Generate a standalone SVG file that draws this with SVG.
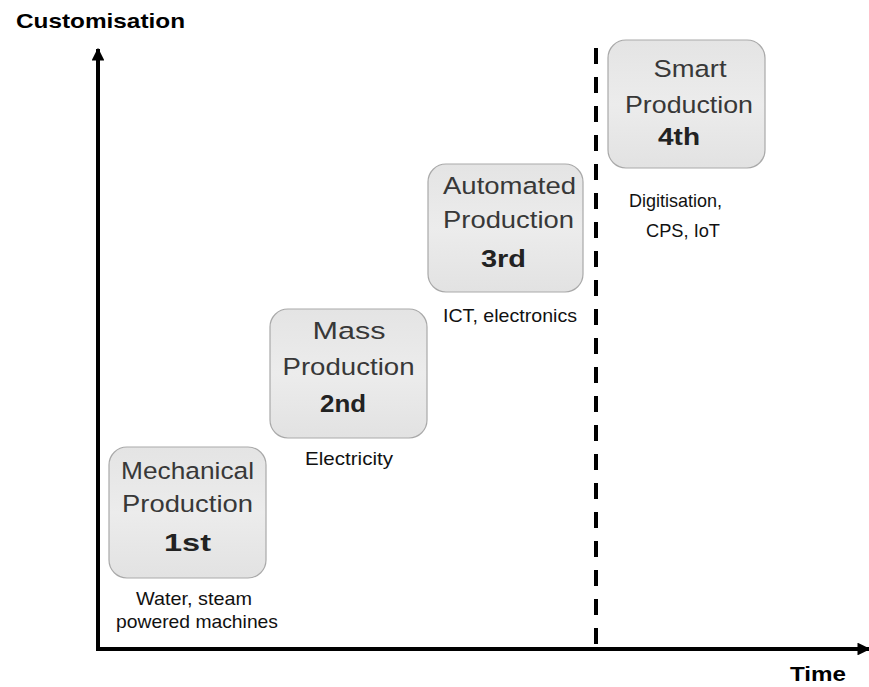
<svg xmlns="http://www.w3.org/2000/svg" width="869" height="687" viewBox="0 0 869 687">
  <style>
    .box { fill: url(#boxFill); stroke: #a9a9a9; stroke-width: 1.2; }
    .title { font-family: "Liberation Sans", Arial, sans-serif; font-size: 24.5px; fill: #383838; text-anchor: middle; }
    .num { font-family: "Liberation Sans", Arial, sans-serif; font-size: 24px; font-weight: bold; fill: #222; text-anchor: middle; }
    .cap { font-family: "Liberation Sans", Arial, sans-serif; font-size: 19px; fill: #111; text-anchor: middle; }
    .axisLabel { font-family: "Liberation Sans", Arial, sans-serif; font-size: 21px; font-weight: bold; fill: #000; }
    .axis { stroke: #000; stroke-width: 4; fill: none; }
    .era { stroke: #000; stroke-width: 4; stroke-dasharray: 16 13; fill: none; }
  </style>
  <defs>
    <linearGradient id="boxFill" x1="0" y1="0" x2="0" y2="1">
      <stop offset="0" stop-color="#e4e4e4"/>
      <stop offset="0.5" stop-color="#ececec"/>
      <stop offset="1" stop-color="#e2e2e2"/>
    </linearGradient>
    <marker id="arrow" viewBox="0 0 10 10" refX="9" refY="5" markerWidth="3.2" markerHeight="3.2" orient="auto" markerUnits="strokeWidth">
      <path d="M0,0 L10,5 L0,10 Z" fill="#000"/>
    </marker>
  </defs>

  <rect width="869" height="687" fill="#fff"/>

  <!-- axes and era divider -->
  <g id="connectors">
    <line class="axis" x1="98" y1="651" x2="98" y2="49" marker-end="url(#arrow)"/>
    <line class="axis" x1="96" y1="649" x2="869" y2="649" marker-end="url(#arrow)"/>
    <line class="era" x1="596" y1="48" x2="596" y2="647"/>
  </g>

  <text class="axisLabel" x="16" y="28" textLength="169" lengthAdjust="spacingAndGlyphs">Customisation</text>
  <text class="axisLabel" x="790" y="681" font-size="25" textLength="56" lengthAdjust="spacingAndGlyphs">Time</text>

  <g id="mechanical">
    <rect class="box" x="109" y="447" width="157" height="131" rx="18"/>
    <text class="title" x="187.5" y="479" textLength="133" lengthAdjust="spacingAndGlyphs">Mechanical</text>
    <text class="title" x="187.5" y="512" textLength="131" lengthAdjust="spacingAndGlyphs">Production</text>
    <text class="num" x="187.5" y="551" textLength="47" lengthAdjust="spacingAndGlyphs">1st</text>
    <text class="cap" x="194" y="605" textLength="116" lengthAdjust="spacingAndGlyphs">Water, steam</text>
    <text class="cap" x="197" y="628" textLength="162" lengthAdjust="spacingAndGlyphs">powered machines</text>
  </g>

  <g id="mass">
    <rect class="box" x="270" y="309" width="157" height="129" rx="18"/>
    <text class="title" x="349" y="339" textLength="73" lengthAdjust="spacingAndGlyphs">Mass</text>
    <text class="title" x="348.5" y="375" textLength="132" lengthAdjust="spacingAndGlyphs">Production</text>
    <text class="num" x="343" y="412" textLength="46" lengthAdjust="spacingAndGlyphs">2nd</text>
    <text class="cap" x="349" y="465" textLength="88" lengthAdjust="spacingAndGlyphs">Electricity</text>
  </g>

  <g id="automated">
    <rect class="box" x="428" y="164" width="155" height="128" rx="18"/>
    <text class="title" x="509.5" y="194" textLength="133" lengthAdjust="spacingAndGlyphs">Automated</text>
    <text class="title" x="508.5" y="228" textLength="131" lengthAdjust="spacingAndGlyphs">Production</text>
    <text class="num" x="503.5" y="267" textLength="45" lengthAdjust="spacingAndGlyphs">3rd</text>
    <text class="cap" x="510" y="322" textLength="134" lengthAdjust="spacingAndGlyphs">ICT, electronics</text>
  </g>

  <g id="smart">
    <rect class="box" x="608" y="40" width="157" height="128" rx="18"/>
    <text class="title" x="690" y="77" textLength="73" lengthAdjust="spacingAndGlyphs">Smart</text>
    <text class="title" x="689" y="113" textLength="128" lengthAdjust="spacingAndGlyphs">Production</text>
    <text class="num" x="679" y="145" textLength="42" lengthAdjust="spacingAndGlyphs">4th</text>
    <text class="cap" x="675.5" y="207" textLength="93" lengthAdjust="spacingAndGlyphs">Digitisation,</text>
    <text class="cap" x="683" y="237" textLength="74" lengthAdjust="spacingAndGlyphs">CPS, IoT</text>
  </g>
</svg>
